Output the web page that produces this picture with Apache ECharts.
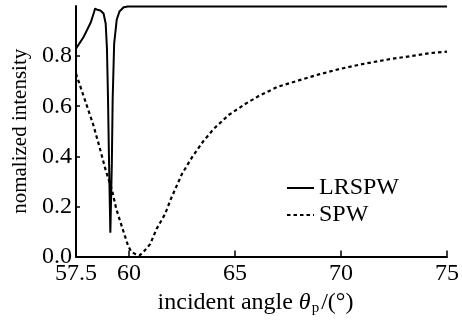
<!DOCTYPE html>
<html>
<head>
<meta charset="utf-8">
<script src="https://cdn.jsdelivr.net/npm/echarts@6/dist/echarts.min.js"></script>
<style>
  html, body { margin: 0; padding: 0; background: #fff; }
  #chart { width: 462px; height: 321px; }
</style>
</head>
<body>
<div id="chart"></div>
<script>
// 数据：入射角 (°) 与归一化强度
var lrspwAngle = [57.5, 57.85, 58.2, 58.35, 58.4, 58.5, 58.65, 58.8, 58.9, 58.96, 59.01, 59.06, 59.12,
                  59.19, 59.23, 59.3, 59.42, 59.55, 59.75, 59.95, 62, 65, 70, 75];
var lrspwValue = [0.83, 0.875, 0.935, 0.975, 0.99, 0.985, 0.982, 0.97, 0.93, 0.83, 0.63, 0.37, 0.095,
                  0.37, 0.63, 0.85, 0.945, 0.978, 0.995, 0.998, 0.998, 0.998, 0.998, 0.998];

var spwAngle = [57.5, 57.9, 58.3, 58.6, 58.9, 59.2, 59.4, 59.7, 59.95, 60.1, 60.3, 60.5, 60.7, 61.0,
                61.3, 61.7, 62.0, 62.5, 63.0, 63.5, 64.0, 64.7, 65.5, 66.1, 67.0, 68.0, 69.0, 70.0,
                71.0, 72.3, 73.3, 74.2, 75.0];
var spwValue = [0.73, 0.63, 0.53, 0.44, 0.345, 0.265, 0.19, 0.11, 0.045, 0.02, 0.01, 0.005, 0.02, 0.05,
                0.11, 0.17, 0.235, 0.33, 0.40, 0.46, 0.51, 0.565, 0.61, 0.64, 0.677, 0.703, 0.728, 0.75,
                0.768, 0.788, 0.80, 0.812, 0.818];

var xLabels = [57.5, 60, 65, 70, 75];
var xTicks = [60, 65, 70, 75];
var yTicks = [0, 0.2, 0.4, 0.6, 0.8];

function pairs(xs, ys) {
    return xs.map(function (x, i) { return [x, ys[i]]; });
}

var font = 'Liberation Serif';
var chart = echarts.init(document.getElementById('chart'));

var option = {
    animation: false,
    backgroundColor: '#fff',
    grid: { left: 76, right: 12, top: 6, bottom: 60 },
    legend: {
        orient: 'vertical',
        left: 281,
        top: 171,
        itemWidth: 27,
        itemHeight: 12,
        itemGap: 3,
        itemStyle: { opacity: 0 },
        textStyle: { fontFamily: font, fontSize: 24, color: '#000' },
        data: ['LRSPW', 'SPW']
    },
    xAxis: {
        type: 'value',
        min: 57.5,
        max: 75,
        name: 'incident angle {it|θ}{sub|p}/(°)',
        nameLocation: 'middle',
        nameGap: 31,
        nameTextStyle: {
            fontFamily: font, fontSize: 24, color: '#000',
            padding: [0, 12, 0, 0],
            rich: {
                it: { fontFamily: font, fontSize: 24, fontStyle: 'italic', color: '#000' },
                sub: { fontFamily: font, fontSize: 15, color: '#000', verticalAlign: 'bottom', padding: [12, 2, 0, 1] }
            }
        },
        axisLine: { lineStyle: { color: '#000', width: 2 } },
        axisTick: { inside: true, length: 6, customValues: xTicks, lineStyle: { color: '#000', width: 1.5 } },
        axisLabel: { customValues: xLabels, margin: 5, fontFamily: font, fontSize: 24, color: '#000' },
        splitLine: { show: false }
    },
    yAxis: {
        type: 'value',
        min: 0,
        max: 1,
        name: 'nomalized intensity',
        nameLocation: 'middle',
        nameGap: 43,
        nameTextStyle: { fontFamily: font, fontSize: 21, color: '#000' },
        axisLine: { show: true, lineStyle: { color: '#000', width: 2 } },
        axisTick: { inside: true, length: 4, customValues: yTicks, lineStyle: { color: '#000', width: 1.5 } },
        axisLabel: {
            customValues: yTicks, margin: 4, fontFamily: font, fontSize: 24, color: '#000',
            formatter: function (v) { return v.toFixed(1); }
        },
        splitLine: { show: false }
    },
    series: [
        {
            name: 'LRSPW',
            type: 'line',
            symbol: 'none',
            data: pairs(lrspwAngle, lrspwValue),
            lineStyle: { color: '#000', width: 2 },
            itemStyle: { color: '#000' }
        },
        {
            name: 'SPW',
            type: 'line',
            symbol: 'none',
            data: pairs(spwAngle, spwValue),
            lineStyle: { color: '#000', width: 2.2, type: [3.5, 3] },
            itemStyle: { color: '#000' }
        }
    ]
};

chart.setOption(option);
</script>
</body>
</html>
